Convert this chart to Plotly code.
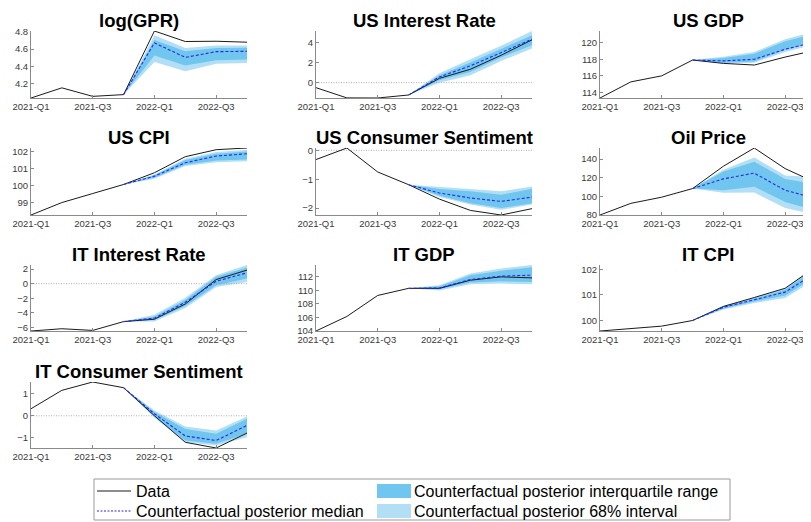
import plotly.graph_objects as go

# ---------------- data ----------------
quarters = ["2021-Q1", "2021-Q2", "2021-Q3", "2021-Q4",
            "2022-Q1", "2022-Q2", "2022-Q3", "2022-Q4"]
tick_labels = ["2021-Q1", "2021-Q3", "2022-Q1", "2022-Q3"]
cf_start = 3  # counterfactual begins at 2021-Q4

titles = ["log(GPR)", "US Interest Rate", "US GDP",
          "US CPI", "US Consumer Sentiment", "Oil Price",
          "IT Interest Rate", "IT GDP", "IT CPI",
          "IT Consumer Sentiment"]

gpr_data = [4.036, 4.153, 4.055, 4.075, 4.808, 4.687, 4.690, 4.679]
gpr_med = [4.075, 4.671, 4.504, 4.570, 4.574]
gpr_iqr_lo = [4.075, 4.525, 4.410, 4.470, 4.480]
gpr_iqr_hi = [4.075, 4.705, 4.575, 4.612, 4.615]
gpr_p68_lo = [4.075, 4.450, 4.345, 4.430, 4.440]
gpr_p68_hi = [4.075, 4.760, 4.612, 4.640, 4.640]

usr_data = [-0.50, -1.52, -1.53, -1.23, 0.43, 1.33, 2.73, 4.27]
usr_med = [-1.23, 0.57, 1.67, 3.00, 4.33]
usr_iqr_lo = [-1.23, 0.23, 1.07, 2.50, 3.73]
usr_iqr_hi = [-1.23, 0.73, 2.00, 3.40, 4.73]
usr_p68_lo = [-1.23, 0.00, 0.73, 2.17, 3.40]
usr_p68_hi = [-1.23, 0.93, 2.33, 3.67, 5.15]

usg_data = [113.33, 115.27, 116.00, 117.90, 117.50, 117.30, 118.26, 119.10]
usg_med = [117.90, 117.80, 118.00, 119.20, 120.10]
usg_iqr_lo = [117.90, 117.58, 117.74, 119.10, 120.10]
usg_iqr_hi = [117.90, 118.14, 118.67, 120.16, 121.10]
usg_p68_lo = [117.90, 117.45, 117.58, 118.87, 119.80]
usg_p68_hi = [117.90, 118.30, 118.87, 120.40, 121.40]

usc_data = [98.27, 99.00, 99.53, 100.06, 100.75, 101.69, 102.10, 102.20]
usc_med = [100.06, 100.55, 101.33, 101.73, 101.86]
usc_iqr_lo = [100.06, 100.45, 101.22, 101.47, 101.53]
usc_iqr_hi = [100.06, 100.60, 101.49, 101.86, 102.00]
usc_p68_lo = [100.06, 100.39, 101.14, 101.37, 101.43]
usc_p68_hi = [100.06, 100.65, 101.57, 101.96, 102.10]

uss_data = [-0.32, 0.08, -0.75, -1.19, -1.69, -2.08, -2.24, -2.02]
uss_med = [-1.19, -1.48, -1.65, -1.77, -1.62]
uss_iqr_lo = [-1.19, -1.57, -1.83, -2.00, -1.83]
uss_iqr_hi = [-1.19, -1.34, -1.42, -1.54, -1.33]
uss_p68_lo = [-1.19, -1.62, -1.88, -2.06, -1.88]
uss_p68_hi = [-1.19, -1.27, -1.34, -1.42, -1.25]

oil_data = [80.0, 92.5, 99.1, 108.3, 132.3, 151.8, 129.7, 114.6]
oil_med = [108.3, 118.7, 124.9, 106.5, 97.7]
oil_iqr_lo = [108.3, 106.5, 110.2, 94.0, 84.4]
oil_iqr_hi = [108.3, 126.7, 137.0, 118.7, 113.0]
oil_p68_lo = [108.3, 103.9, 104.0, 87.4, 80.0]
oil_p68_hi = [108.3, 128.6, 141.5, 122.3, 120.5]

itr_data = [-6.50, -6.19, -6.42, -5.21, -4.88, -2.79, 0.56, 1.86]
itr_med = [-5.21, -4.74, -2.56, 0.33, 1.49]
itr_iqr_lo = [-5.21, -5.00, -3.07, -0.23, 0.70]
itr_iqr_hi = [-5.21, -4.50, -2.23, 0.93, 2.23]
itr_p68_lo = [-5.21, -5.20, -3.35, -0.47, 0.23]
itr_p68_hi = [-5.21, -4.28, -1.95, 1.16, 2.56]

itg_data = [104.00, 106.15, 109.25, 110.30, 110.30, 111.50, 112.00, 111.85]
itg_med = [110.30, 110.35, 111.60, 112.10, 112.25]
itg_iqr_lo = [110.30, 110.15, 111.15, 111.35, 111.25]
itg_iqr_hi = [110.30, 110.60, 112.25, 112.90, 113.40]
itg_p68_lo = [110.30, 110.00, 110.90, 111.00, 110.90]
itg_p68_hi = [110.30, 110.75, 112.50, 113.25, 113.75]

itc_data = [99.59, 99.69, 99.78, 100.00, 100.55, 100.90, 101.26, 102.10]
itc_med = [100.00, 100.52, 100.81, 101.11, 101.87]
itc_iqr_lo = [100.00, 100.46, 100.74, 100.98, 101.72]
itc_iqr_hi = [100.00, 100.55, 100.86, 101.20, 102.06]
itc_p68_lo = [100.00, 100.43, 100.68, 100.88, 101.63]
itc_p68_hi = [100.00, 100.58, 100.90, 101.26, 102.17]

its_data = [0.32, 1.16, 1.54, 1.28, 0.00, -1.21, -1.47, -0.79]
its_med = [1.28, 0.09, -0.92, -1.13, -0.44]
its_iqr_lo = [1.28, -0.03, -1.13, -1.28, -0.82]
its_iqr_hi = [1.28, 0.17, -0.60, -0.82, -0.14]
its_p68_lo = [1.28, -0.09, -1.21, -1.36, -0.98]
its_p68_hi = [1.28, 0.24, -0.49, -0.67, -0.03]

yticks = [
    [4.2, 4.4, 4.6, 4.8], [0, 2, 4], [114, 116, 118, 120],
    [99, 100, 101, 102], [-2, -1, 0], [80, 100, 120, 140],
    [-6, -4, -2, 0, 2], [104, 106, 108, 110, 112], [100, 101, 102],
    [-1, 0, 1],
]
zero_line = [False, True, False, False, True, False, True, False, False, True]

panels = [
    (gpr_data, gpr_med, gpr_iqr_lo, gpr_iqr_hi, gpr_p68_lo, gpr_p68_hi),
    (usr_data, usr_med, usr_iqr_lo, usr_iqr_hi, usr_p68_lo, usr_p68_hi),
    (usg_data, usg_med, usg_iqr_lo, usg_iqr_hi, usg_p68_lo, usg_p68_hi),
    (usc_data, usc_med, usc_iqr_lo, usc_iqr_hi, usc_p68_lo, usc_p68_hi),
    (uss_data, uss_med, uss_iqr_lo, uss_iqr_hi, uss_p68_lo, uss_p68_hi),
    (oil_data, oil_med, oil_iqr_lo, oil_iqr_hi, oil_p68_lo, oil_p68_hi),
    (itr_data, itr_med, itr_iqr_lo, itr_iqr_hi, itr_p68_lo, itr_p68_hi),
    (itg_data, itg_med, itg_iqr_lo, itg_iqr_hi, itg_p68_lo, itg_p68_hi),
    (itc_data, itc_med, itc_iqr_lo, itc_iqr_hi, itc_p68_lo, itc_p68_hi),
    (its_data, its_med, its_iqr_lo, its_iqr_hi, its_p68_lo, its_p68_hi),
]

# ---------------- style / layout ----------------
W, H = 811, 522
OFF = 8  # the page body places the figure 8 px from the window corner
# plot boxes in window pixels (third column is cut by the window edge)
COL_PX = [(31, 247), (316, 532), (600, 816)]
ROW_PX = [(31, 98), (148, 215), (265, 331), (382, 448)]
C_DARK = "rgb(112,198,238)"
C_LIGHT = "rgb(178,223,245)"
C_MED = "rgb(40,40,235)"
C_DATA = "#1a1a1a"
AX_COL = "#8a8a8a"
TICK_FONT = dict(family="Liberation Sans, Arial, sans-serif", size=9.5, color="#3a3a3a")


def px(xs_):
    return (xs_ - OFF) / W


def py(ys_):
    return 1 - (ys_ - OFF) / H


fig = go.Figure()
layout = dict(width=W, height=H, autosize=False,
              margin=dict(l=0, r=0, t=0, b=0, pad=0, autoexpand=False),
              paper_bgcolor="white", plot_bgcolor="rgba(0,0,0,0)",
              showlegend=False)
annotations = []
shapes = []

xs = list(range(len(quarters)))
xs_cf = xs[cf_start:]
tickpos = [quarters.index(t) for t in tick_labels]

for k, (data, med, iqr_lo, iqr_hi, p_lo, p_hi) in enumerate(panels):
    r, c = divmod(k, 3)
    n = k + 1
    xa = "x" if n == 1 else f"x{n}"
    ya = "y" if n == 1 else f"y{n}"
    x0p, x1p = COL_PX[c]
    y0p, y1p = ROW_PX[r]
    allv = data + med + iqr_lo + iqr_hi + p_lo + p_hi
    ymin, ymax = min(allv), max(allv)

    fig.add_trace(go.Scatter(x=xs_cf + xs_cf[::-1], y=p_hi + p_lo[::-1], fill="toself",
                             fillcolor=C_LIGHT, line=dict(width=0), mode="lines",
                             hoverinfo="skip", xaxis=xa, yaxis=ya))
    fig.add_trace(go.Scatter(x=xs_cf + xs_cf[::-1], y=iqr_hi + iqr_lo[::-1], fill="toself",
                             fillcolor=C_DARK, line=dict(width=0), mode="lines",
                             hoverinfo="skip", xaxis=xa, yaxis=ya))
    if zero_line[k]:
        fig.add_trace(go.Scatter(x=[0, len(quarters) - 1], y=[0, 0], mode="lines",
                                 line=dict(color="#9a9a9a", width=0.8, dash="1px,1.5px"),
                                 hoverinfo="skip", xaxis=xa, yaxis=ya))
    fig.add_trace(go.Scatter(x=xs, y=data, mode="lines", line=dict(color=C_DATA, width=1),
                             xaxis=xa, yaxis=ya))
    fig.add_trace(go.Scatter(x=xs_cf, y=med, mode="lines",
                             line=dict(color=C_MED, width=1.1, dash="3px,2px"),
                             xaxis=xa, yaxis=ya))

    common = dict(showgrid=False, zeroline=False, showline=True, linecolor=AX_COL,
                  linewidth=1, ticks="inside", ticklen=3, tickcolor=AX_COL,
                  tickwidth=1, tickfont=TICK_FONT, fixedrange=True, automargin=False)
    layout["xaxis" if n == 1 else f"xaxis{n}"] = dict(
        domain=[px(x0p), min(px(x1p), 1.0)], anchor=ya, range=[0, len(quarters) - 1],
        tickvals=tickpos, ticktext=tick_labels, **common)
    layout["yaxis" if n == 1 else f"yaxis{n}"] = dict(
        domain=[py(y1p), py(y0p)], anchor=xa, range=[ymin, ymax],
        tickvals=yticks[k], **common)

    annotations.append(dict(text="<b>" + titles[k] + "</b>", xref="paper", yref="paper",
                            x=px((x0p + x1p) / 2), y=py(y0p - 10.5),
                            xanchor="center", yanchor="middle", showarrow=False,
                            font=dict(family="Liberation Sans, Arial, sans-serif",
                                      size=18.5, color="black")))

# ---------------- legend (drawn box) ----------------
LEG_FONT = dict(family="Liberation Sans, Arial, sans-serif", size=16, color="black")
shapes.append(dict(type="rect", xref="paper", yref="paper", x0=px(94), x1=px(730),
                   y0=py(520), y1=py(479), line=dict(color="#9a9a9a", width=1),
                   fillcolor="white", layer="below"))
shapes.append(dict(type="line", xref="paper", yref="paper", x0=px(97), x1=px(131),
                   y0=py(491), y1=py(491), line=dict(color=C_DATA, width=1)))
shapes.append(dict(type="line", xref="paper", yref="paper", x0=px(97), x1=px(131),
                   y0=py(511), y1=py(511), line=dict(color=C_MED, width=1, dash="2px,1.5px")))
shapes.append(dict(type="rect", xref="paper", yref="paper", x0=px(377), x1=px(411),
                   y0=py(498), y1=py(484), line=dict(width=0), fillcolor=C_DARK))
shapes.append(dict(type="rect", xref="paper", yref="paper", x0=px(377), x1=px(411),
                   y0=py(518), y1=py(504), line=dict(width=0), fillcolor=C_LIGHT))
legend_items = [("Data", 134, 491), ("Counterfactual posterior median", 134, 511),
                ("Counterfactual posterior interquartile range", 412, 491),
                ("Counterfactual posterior 68% interval", 412, 511)]
for txt, lx, ly in legend_items:
    annotations.append(dict(text=txt, xref="paper", yref="paper", x=px(lx), y=py(ly),
                            xanchor="left", yanchor="middle", showarrow=False,
                            font=LEG_FONT))

layout["annotations"] = annotations
layout["shapes"] = shapes
fig.update_layout(**layout)
fig.write_html("out.html")
